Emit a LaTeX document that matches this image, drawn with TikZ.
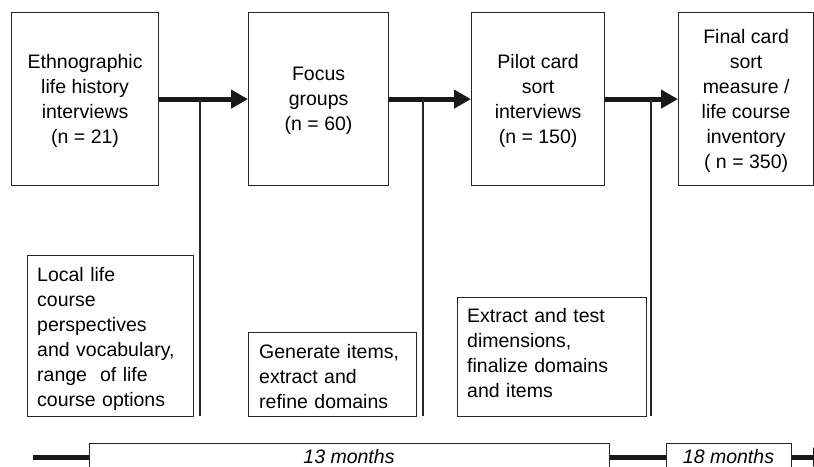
\documentclass[tikz,border=0pt]{standalone}
\usepackage{fontspec}
\setmainfont{Liberation Sans}
\usetikzlibrary{arrows.meta}
\begin{document}
\begin{tikzpicture}[x=1pt,y=-1pt,
  topbox/.style={draw=black!85, line width=1.2pt, minimum height=173pt, inner sep=0pt, align=center, anchor=north west, text depth=0pt},
  lowbox/.style={draw=black!85, line width=1.2pt, inner sep=0pt, anchor=north west},
  lowtext/.style={text width=170pt, align=left, inner sep=0pt, anchor=base west},
  flow/.style={line width=5pt, black!90, -{Triangle[length=17pt,width=18pt]}},
  timeline/.style={line width=5pt, black!90},
  drop/.style={line width=1.4pt, black!85},
  timebox/.style={draw=black!85, line width=1.2pt, inner sep=0pt, anchor=north west, minimum height=40pt},
  timetext/.style={font=\itshape, inner sep=0pt, anchor=base}]
\useasboundingbox (0,0) rectangle (814,466);
\clip (0,0) rectangle (814,466);
\fontsize{19.5}{25}\selectfont
% top boxes
\node[topbox, minimum width=147pt] (b1) at (11,12) {Ethnographic\\life history\\interviews\\(n = 21)};
\node[topbox, minimum width=140pt] (b2) at (248,12) {Focus\\groups\\(n = 60)};
\node[topbox, minimum width=133pt] (b3) at (471,12) {Pilot card\\sort\\interviews\\(n = 150)};
\node[topbox, minimum width=135pt] (b4) at (678,12) {Final card\\sort\\measure /\\life course\\inventory\\( n = 350)};
% flow arrows
\draw[flow] (b1.east) -- (b2.west);
\draw[flow] (b2.east) -- (b3.west);
\draw[flow] (b3.east) -- (b4.west);
% drop lines
\coordinate (j1) at (200,99);  \coordinate (e1) at (200,416);
\coordinate (j2) at (423,99);  \coordinate (e2) at (423,416);
\coordinate (j3) at (651,99);  \coordinate (e3) at (651,416);
\draw[drop] (j1) -- (e1);
\draw[drop] (j2) -- (e2);
\draw[drop] (j3) -- (e3);
% lower boxes
\node[lowbox, minimum width=166pt, minimum height=161pt] (la) at (27,255) {};
\node[lowtext] (lat) at (37,281.5) {Local life\\course\\perspectives\\and vocabulary,\\range\ \ of life\\course options};
\node[lowbox, minimum width=168pt, minimum height=84pt] (lb) at (248,332) {};
\node[lowtext] (lbt) at (259,358) {Generate items,\\extract and\\refine domains};
\node[lowbox, minimum width=189pt, minimum height=119pt] (lc) at (457,297) {};
\node[lowtext] (lct) at (467,322.3) {Extract and test\\dimensions,\\finalize domains\\and items};
% timeline
\node[timebox, minimum width=520pt] (t13) at (89,443) {};
\node[timetext] (t13t) at (349,463.5) {13 months};
\node[timebox, minimum width=125pt] (t18) at (666,443) {};
\node[timetext] (t18t) at (728.5,463.5) {18 months};
\coordinate (tl0) at (33,457);
\coordinate (tlend) at (830,457);
\draw[timeline] (tl0) -- (tl0 -| t13.west);
\draw[timeline] (t13.east |- tl0) -- (t18.west |- tl0);
\draw[timeline, -{Triangle[length=17pt,width=18pt]}] (t18.east |- tl0) -- (tlend);
\end{tikzpicture}
\end{document}
